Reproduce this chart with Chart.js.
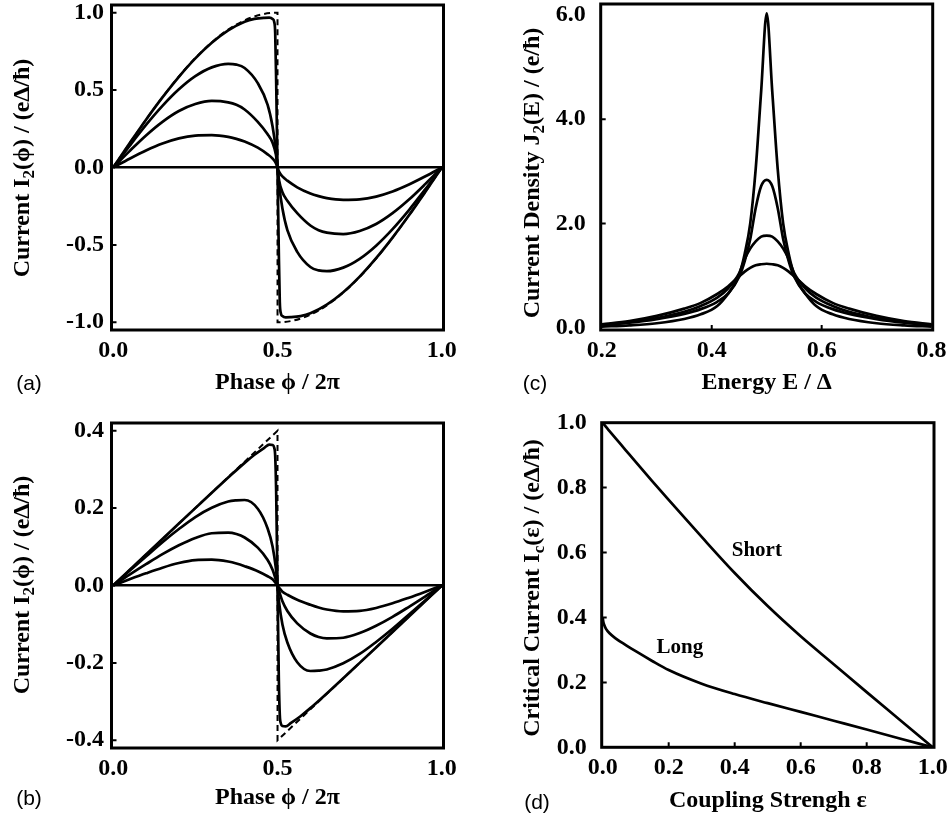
<!DOCTYPE html>
<html>
<head>
<meta charset="utf-8">
<script src="https://cdn.jsdelivr.net/npm/chart.js@4.4.1/dist/chart.umd.min.js"></script>
<style>
  body { margin: 0; background: #fff; }
  #wrap { position: relative; width: 951px; height: 821px; background: #fff; }
  #wrap canvas { position: absolute; }
</style>
</head>
<body>
<div id="wrap">
  <canvas id="cA"></canvas>
  <canvas id="cB"></canvas>
  <canvas id="cC"></canvas>
  <canvas id="cD"></canvas>
</div>
<script>
// ---- (a) / (b): current-phase relation, phase phi/2pi ----
const phase = [0, 0.05, 0.1, 0.15, 0.2, 0.25, 0.3, 0.35, 0.375, 0.4, 0.44, 0.47, 0.485, 0.495, 0.5,
               0.505, 0.515, 0.53, 0.56, 0.6, 0.625, 0.65, 0.7, 0.75, 0.8, 0.85, 0.9, 0.95, 1];
const phaseSteep = [0, 0.05, 0.1, 0.15, 0.2, 0.25, 0.3, 0.35, 0.4, 0.43, 0.46, 0.475, 0.485, 0.49, 0.493, 0.496, 0.5,
                    0.504, 0.507, 0.51, 0.515, 0.525, 0.54, 0.57, 0.6, 0.65, 0.7, 0.75, 0.8, 0.85, 0.9, 0.95, 1];
const phaseDash = [0, 0.05, 0.1, 0.15, 0.2, 0.25, 0.3, 0.35, 0.4, 0.45, 0.5, 0.5001, 0.55, 0.6, 0.65, 0.7, 0.75, 0.8, 0.85, 0.9, 0.95, 1];
const phaseSaw = [0, 0.5, 0.5001, 1];

// panel (a)
const topA = [0, .156, .309, .453, .586, .705, .806, .886, .942, .960, .967, .968, .960, .94, .87, .55, 0,
              -.55, -.87, -.94, -.96, -.968, -.967, -.960, -.942, -.886, -.806, -.705, -.586, -.453, -.309, -.156, 0];
const curveA2 = [0, .140, .275, .398, .505, .590, .647, .670, .665, .643, .545, .404, .265, .115, 0,
                 -.115, -.265, -.404, -.545, -.643, -.665, -.670, -.647, -.590, -.505, -.398, -.275, -.140, 0];
const curveA3 = [0, .106, .207, .295, .365, .410, .430, .421, .405, .375, .295, .215, .160, .085, 0,
                 -.085, -.160, -.215, -.295, -.375, -.405, -.421, -.430, -.410, -.365, -.295, -.207, -.106, 0];
const curveA4 = [0, .057, .110, .155, .188, .206, .209, .198, .185, .168, .128, .085, .058, .028, 0,
                 -.028, -.058, -.085, -.128, -.168, -.185, -.198, -.209, -.206, -.188, -.155, -.110, -.057, 0];
const dashA = [0, .156, .309, .454, .588, .707, .809, .891, .951, .988, 1, -1, -.988, -.951, -.891, -.809, -.707, -.588, -.454, -.309, -.156, 0];

// panel (b)
const topB = [0, .040, .080, .120, .160, .200, .240, .279, .317, .338, .356, .364, .363, .356, .335, .24, 0,
              -.24, -.335, -.356, -.363, -.364, -.356, -.338, -.317, -.279, -.240, -.200, -.160, -.120, -.080, -.040, 0];
const curveB2 = [0, .038, .075, .112, .146, .177, .201, .217, .220, .221, .1985, .1475, .101, .045, 0,
                 -.045, -.101, -.1475, -.1985, -.221, -.220, -.217, -.201, -.177, -.146, -.112, -.075, -.038, 0];
const curveB3 = [0, .028, .055, .081, .104, .123, .135, .1365, .133, .124, .098, .066, .041, .015, 0,
                 -.015, -.041, -.066, -.098, -.124, -.133, -.1365, -.135, -.123, -.104, -.081, -.055, -.028, 0];
const curveB4 = [0, .016, .0315, .046, .058, .0656, .0667, .062, .057, .050, .037, .024, .016, .006, 0,
                 -.006, -.016, -.024, -.037, -.050, -.057, -.062, -.0667, -.0656, -.058, -.046, -.0315, -.016, 0];
const dashB = [0, 0.4, -0.4, 0];

// ---- (c): current density vs energy ----
const energy = [0.2, 0.25, 0.3, 0.35, 0.38, 0.41, 0.43, 0.45, 0.46, 0.47, 0.48, 0.49, 0.5,
                0.51, 0.52, 0.53, 0.54, 0.55, 0.57, 0.59, 0.62, 0.65, 0.7, 0.75, 0.8];
const densA = [.025, .05, .09, .17, .26, .42, .66, 1.02, 1.42, 2.0, 3.05, 4.55, 6.03, 4.55, 3.05, 2.0, 1.42, 1.02, .66, .42, .26, .17, .09, .05, .025];
const densB = [.05, .10, .17, .27, .36, .50, .66, .98, 1.28, 1.70, 2.30, 2.72, 2.84, 2.72, 2.30, 1.70, 1.28, .98, .66, .50, .36, .27, .17, .10, .05];
const densC = [.055, .11, .19, .31, .42, .58, .76, 1.05, 1.32, 1.52, 1.66, 1.75, 1.77, 1.75, 1.66, 1.52, 1.32, 1.05, .76, .58, .42, .31, .19, .11, .055];
const densD = [.07, .13, .23, .37, .48, .65, .80, .99, 1.08, 1.15, 1.20, 1.22, 1.23, 1.22, 1.20, 1.15, 1.08, .99, .80, .65, .48, .37, .23, .13, .07];

// ---- (d): critical current vs coupling strength ----
const eps = [0, .002, .005, .01, .02, .04, .07, .1, .15, .2, .3, .4, .5, .6, .7, .8, .9, 1];
const icShort = [1, .9975, .9935, .987, .975, .951, .915, .879, .820, .762, .648, .537, .435, .342, .256, .170, .085, 0];
const icLong = [.40, .386, .376, .365, .352, .335, .315, .296, .266, .238, .196, .164, .136, .109, .082, .055, .027, 0];
const noteText = ['Short', 'Long'];
const noteEps = [0.467, 0.234];
const noteIc = [0.605, 0.306];

// tick labels
const ticksPhase = [0, 0.5, 1];
const ticksA = [-1, -0.5, 0, 0.5, 1];
const ticksB = [-0.4, -0.2, 0, 0.2, 0.4];
const ticksEnergy = [0.2, 0.4, 0.6, 0.8];
const ticksDens = [0, 2, 4, 6];
const ticksUnit = [0, 0.2, 0.4, 0.6, 0.8, 1];

const serif = "'Liberation Serif', 'Times New Roman', Times, serif";
Chart.defaults.font.family = serif;
Chart.defaults.color = '#000';

function line(xs, ys, opt) {
  opt = opt || {};
  return {
    data: xs.map((x, i) => ({ x: x, y: ys[i] })),
    borderColor: '#000',
    borderWidth: opt.dash ? 2 : 2.7,
    borderDash: opt.dash ? [6, 4] : [],
    pointRadius: 0,
    fill: false,
    cubicInterpolationMode: opt.straight ? 'default' : 'monotone',
    tension: 0
  };
}

function drawYTitle(ctx, parts, cx, cy) {
  const big = 'bold 24px ' + serif, small = 'bold 17px ' + serif;
  ctx.save();
  ctx.translate(cx, cy);
  ctx.rotate(-Math.PI / 2);
  ctx.textAlign = 'left';
  ctx.textBaseline = 'middle';
  ctx.fillStyle = '#000';
  let w = 0;
  parts.forEach(p => { ctx.font = p[1] ? small : big; w += ctx.measureText(p[0]).width; });
  let x0 = -w / 2;
  parts.forEach(p => {
    ctx.font = p[1] ? small : big;
    ctx.fillText(p[0], x0, p[1] ? 7 : 0);
    x0 += ctx.measureText(p[0]).width;
  });
  ctx.restore();
}

function panelChart(id, box, area, spec) {
  const cv = document.getElementById(id);
  cv.width = box.W; cv.height = box.H;
  cv.style.left = box.L + 'px'; cv.style.top = box.T + 'px';
  const tickFont = { family: serif, weight: 'bold', size: 24 };

  const deco = {
    id: 'deco' + id,
    afterDraw(chart) {
      const { ctx, chartArea: a, scales } = chart;
      const x = scales.x, y = scales.y;
      ctx.save();
      ctx.strokeStyle = '#000';
      ctx.lineWidth = 2;
      ctx.beginPath();
      spec.xMarks.forEach(v => { const p = x.getPixelForValue(v); ctx.moveTo(p, a.bottom); ctx.lineTo(p, a.bottom - 5); });
      spec.yMarks.forEach(v => { const p = y.getPixelForValue(v); ctx.moveTo(a.left, p); ctx.lineTo(a.left + 5, p); });
      ctx.stroke();
      ctx.lineWidth = 3;
      ctx.strokeRect(a.left, a.top, a.right - a.left, a.bottom - a.top);
      ctx.restore();

      drawYTitle(ctx, spec.yTitle, spec.yTitleAt[0] - box.L, spec.yTitleAt[1] - box.T);

      ctx.save();
      ctx.fillStyle = '#000';
      ctx.textAlign = 'center';
      ctx.textBaseline = 'middle';
      ctx.font = "21px 'Liberation Sans', Arial, sans-serif";
      ctx.fillText(spec.letter, spec.letterAt[0] - box.L, spec.letterAt[1] - box.T);
      if (spec.notes) {
        ctx.font = 'bold 21px ' + serif;
        spec.notes.text.forEach((t, i) => {
          ctx.fillText(t, x.getPixelForValue(spec.notes.x[i]), y.getPixelForValue(spec.notes.y[i]));
        });
      }
      ctx.restore();
    }
  };

  return new Chart(cv, {
    type: 'line',
    data: { datasets: spec.datasets },
    options: {
      responsive: false,
      animation: false,
      events: [],
      layout: {
        autoPadding: false,
        padding: { left: 0, top: area.top - box.T, right: box.L + box.W - area.right, bottom: 0 }
      },
      plugins: { legend: { display: false }, tooltip: { enabled: false } },
      scales: {
        x: {
          type: 'linear',
          min: spec.xMin, max: spec.xMax,
          afterBuildTicks: s => { s.ticks = spec.xTicks.map(v => ({ value: v })); },
          afterFit: s => { s.height = box.T + box.H - area.bottom; s.paddingLeft = 0; s.paddingRight = 0; },
          grid: { display: false, drawTicks: false },
          border: { display: false },
          ticks: { padding: 6.3, color: '#000', font: tickFont, maxRotation: 0, autoSkip: false,
                   callback: v => v.toFixed(1) },
          title: { display: true, text: spec.xTitle, color: '#000',
                   font: { family: serif, weight: 'bold', size: 24 },
                   padding: { top: 0, bottom: spec.xTitlePad } }
        },
        y: {
          type: 'linear',
          min: spec.yMin, max: spec.yMax,
          afterBuildTicks: s => { s.ticks = spec.yTicks.map(v => ({ value: v })); },
          afterFit: s => { s.width = area.left - box.L; s.paddingTop = 0; s.paddingBottom = 0; },
          grid: {
            display: !!spec.zeroLine, drawTicks: false, drawOnChartArea: true,
            color: c => (c.tick && c.tick.value === 0) ? '#000' : 'rgba(0,0,0,0)',
            lineWidth: 2.5
          },
          border: { display: false },
          ticks: { padding: spec.yPad, color: '#000', font: tickFont, autoSkip: false,
                   callback: v => v.toFixed(1) }
        }
      }
    },
    plugins: [deco]
  });
}

// (a)
panelChart('cA', { L: 0, T: 0, W: 475, H: 410 }, { left: 111.5, right: 443.5, top: 5, bottom: 330 }, {
  datasets: [
    line(phaseDash, dashA, { dash: true }),
    line(phaseSteep, topA),
    line(phase, curveA2),
    line(phase, curveA3),
    line(phase, curveA4)
  ],
  xMin: -0.005, xMax: 1.005, yMin: -1.05, yMax: 1.05,
  xTicks: ticksPhase, yTicks: ticksA, xMarks: [], yMarks: [-1, -0.5, 0.5, 1],
  zeroLine: true, yPad: 7.5, xTitle: 'Phase ϕ / 2π', xTitlePad: 12.6,
  yTitle: [['Current I', 0], ['2', 1], ['(ϕ) / (eΔ/ħ)', 0]], yTitleAt: [23, 168],
  letter: '(a)', letterAt: [29, 384]
});

// (b)
panelChart('cB', { L: 0, T: 410, W: 475, H: 411 }, { left: 111.5, right: 443.5, top: 423, bottom: 748 }, {
  datasets: [
    line(phaseSaw, dashB, { dash: true, straight: true }),
    line(phaseSteep, topB),
    line(phase, curveB2),
    line(phase, curveB3),
    line(phase, curveB4)
  ],
  xMin: -0.005, xMax: 1.005, yMin: -0.42, yMax: 0.42,
  xTicks: ticksPhase, yTicks: ticksB, xMarks: [], yMarks: [-0.4, -0.2, 0.2, 0.4],
  zeroLine: true, yPad: 7.5, xTitle: 'Phase ϕ / 2π', xTitlePad: 8.6,
  yTitle: [['Current I', 0], ['2', 1], ['(ϕ) / (eΔ/ħ)', 0]], yTitleAt: [23, 585],
  letter: '(b)', letterAt: [29, 799]
});

// (c)
panelChart('cC', { L: 475, T: 0, W: 476, H: 410 }, { left: 600.7, right: 932.7, top: 4, bottom: 330 }, {
  datasets: [
    line(energy, densA),
    line(energy, densB),
    line(energy, densC),
    line(energy, densD)
  ],
  xMin: 0.198, xMax: 0.802, yMin: -0.04, yMax: 6.21,
  xTicks: ticksEnergy, yTicks: ticksDens, xMarks: [0.4, 0.6], yMarks: [2, 4],
  zeroLine: false, yPad: 15, xTitle: 'Energy E / Δ', xTitlePad: 13.1,
  yTitle: [['Current Density J', 0], ['2', 1], ['(E) / (e/ħ)', 0]], yTitleAt: [533, 173],
  letter: '(c)', letterAt: [535, 384]
});

// (d)
panelChart('cD', { L: 475, T: 410, W: 476, H: 411 }, { left: 601.7, right: 934, top: 422.7, bottom: 747.3 }, {
  datasets: [
    line(eps, icShort),
    line(eps, icLong)
  ],
  xMin: -0.003, xMax: 1.004, yMin: 0, yMax: 1,
  xTicks: ticksUnit, yTicks: ticksUnit, xMarks: [0.2, 0.4, 0.6, 0.8], yMarks: [0.2, 0.4, 0.6, 0.8],
  zeroLine: false, yPad: 15, xTitle: 'Coupling Strengh ε', xTitlePad: 6.1,
  yTitle: [['Critical Current I', 0], ['c', 1], ['(ε) / (eΔ/ħ)', 0]], yTitleAt: [533, 588],
  letter: '(d)', letterAt: [537, 803],
  notes: { text: noteText, x: noteEps, y: noteIc }
});
</script>
</body>
</html>
